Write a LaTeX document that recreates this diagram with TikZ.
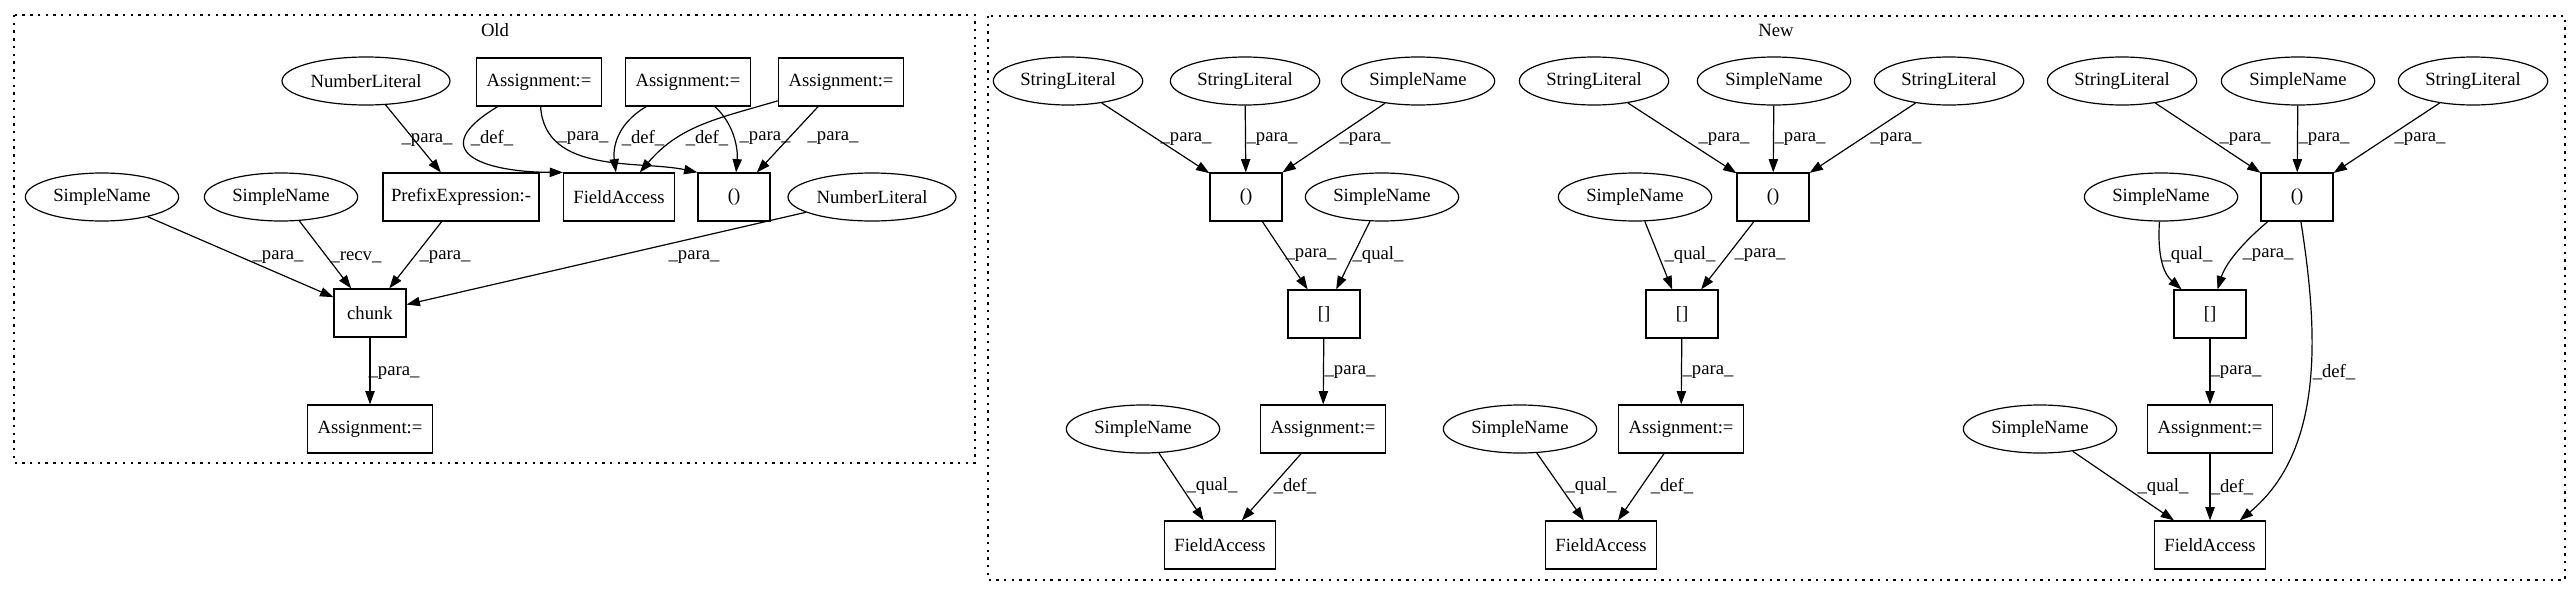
\documentclass[tikz,border=0pt]{standalone}
\usepackage{fontspec}
\setmainfont{Liberation Serif}
\usetikzlibrary{shapes.geometric,arrows.meta}
\newcommand\gvfont{\fontsize{14}{16}\selectfont}
\tikzset{
  box/.style={draw,rectangle,minimum height=36pt,minimum width=54pt,inner sep=0pt,line width=0.9pt,font=\gvfont},
  oval/.style={draw,ellipse,minimum height=36pt,inner sep=0pt,line width=0.9pt,font=\gvfont},
  lbl/.style={inner sep=0pt,font=\gvfont},
  arr/.style={-{Triangle[length=10pt,width=7pt]},line width=0.9pt},
  frame/.style={line width=0.9pt,dash pattern=on 1.8pt off 4pt}
}

\begin{document}
\begin{tikzpicture}[x=0.75pt,y=-0.75pt]
    \useasboundingbox (0,0) rectangle (2576,596);
    \draw[frame] (14,15) rectangle (975,463);
    \draw[frame] (988,16) rectangle (2565,580);
    \node[lbl] (old) at (495,30) {Old};
    \node[lbl] (new) at (1776,30) {New};

    \node[oval,minimum width=126pt] (nl1) at (366,81) {NumberLiteral};
    \node[box,minimum width=94pt] (oa1) at (539,82) {Assignment:=};
    \node[box,minimum width=94pt] (oa2) at (688,82) {Assignment:=};
    \node[box,minimum width=94pt] (oa3) at (841,82) {Assignment:=};
    \node[oval,minimum width=115pt] (sn1) at (102,197) {SimpleName};
    \node[oval,minimum width=115pt] (sn2) at (281,197) {SimpleName};
    \node[box,minimum width=117pt] (pre) at (461,197) {PrefixExpression:-};
    \node[box,minimum width=83pt] (ofa) at (619,197) {FieldAccess};
    \node[box] (opar) at (734,197) {()};
    \node[oval,minimum width=126pt] (nl2) at (872,197) {NumberLiteral};
    \node[box] (chunk) at (370,313) {chunk};
    \node[box,minimum width=94pt] (oa4) at (370,429) {Assignment:=};

    \draw[arr] (nl1) -- (pre) node[lbl] at (427,140) {\_para\_};
    \draw[arr] (oa1) .. controls (425,150) and (480,172) .. (ofa.north west) node[lbl] at (492,138) {\_def\_};
    \draw[arr] (oa1) .. controls (545,175) and (640,160) .. (opar.north west) node[lbl] at (583,138) {\_para\_};
    \draw[arr] (oa2) .. controls (615,125) and (613,150) .. (ofa) node[lbl] at (643,138) {\_def\_};
    \draw[arr] (oa2) .. controls (735,125) and (738,150) .. (opar) node[lbl] at (765,138) {\_para\_};
    \draw[arr] (oa3) .. controls (720,118) and (680,125) .. (ofa) node[lbl] at (707,138) {\_def\_};
    \draw[arr] (oa3) -- (opar) node[lbl] at (833,138) {\_para\_};
    \draw[arr] (sn1) -- (chunk) node[lbl] at (278,257) {\_para\_};
    \draw[arr] (sn2) -- (chunk) node[lbl] at (356,257) {\_recv\_};
    \draw[arr] (pre) -- (chunk) node[lbl] at (445,257) {\_para\_};
    \draw[arr] (nl2) -- (chunk) node[lbl] at (694,257) {\_para\_};
    \draw[arr] (chunk) -- (oa4) node[lbl] at (394,373) {\_para\_};

    \node[oval,minimum width=112pt] (sa1) at (1068,81) {StringLiteral};
    \node[oval,minimum width=112pt] (sa2) at (1245,81) {StringLiteral};
    \node[oval,minimum width=115pt] (na1) at (1418,81) {SimpleName};
    \node[oval,minimum width=112pt] (sb1) at (1594,81) {StringLiteral};
    \node[oval,minimum width=115pt] (nb1) at (1774,81) {SimpleName};
    \node[oval,minimum width=112pt] (sb3) at (1949,81) {StringLiteral};
    \node[oval,minimum width=112pt] (sc1) at (2122,81) {StringLiteral};
    \node[oval,minimum width=115pt] (nc1) at (2298,81) {SimpleName};
    \node[oval,minimum width=112pt] (sc2) at (2473,81) {StringLiteral};

    \node[box] (pa) at (1246,197) {()};
    \node[oval,minimum width=115pt] (na2) at (1382,197) {SimpleName};
    \node[oval,minimum width=115pt] (nb2) at (1635,197) {SimpleName};
    \node[box] (pb) at (1773,197) {()};
    \node[oval,minimum width=115pt] (nc2) at (2161,197) {SimpleName};
    \node[box] (pc) at (2297,197) {()};

    \node[box] (ba) at (1324,314) {[]};
    \node[box] (bb) at (1682,314) {[]};
    \node[box] (bc) at (2210,314) {[]};

    \node[oval,minimum width=115pt] (na3) at (1143,429) {SimpleName};
    \node[box,minimum width=94pt] (aa) at (1323,429) {Assignment:=};
    \node[oval,minimum width=115pt] (nb3) at (1520,429) {SimpleName};
    \node[box,minimum width=94pt] (ab) at (1681,429) {Assignment:=};
    \node[oval,minimum width=115pt] (nc3) at (2040,429) {SimpleName};
    \node[box,minimum width=94pt] (ac) at (2210,429) {Assignment:=};

    \node[box,minimum width=83pt] (fa) at (1220,545) {FieldAccess};
    \node[box,minimum width=83pt] (fb) at (1601,545) {FieldAccess};
    \node[box,minimum width=83pt] (fc) at (2210,545) {FieldAccess};

    \draw[arr] (sa1) -- (pa) node[lbl] at (1186,139) {\_para\_};
    \draw[arr] (sa2) -- (pa) node[lbl] at (1272,139) {\_para\_};
    \draw[arr] (na1) -- (pa) node[lbl] at (1365,139) {\_para\_};
    \draw[arr] (pa) -- (ba) node[lbl] at (1311,255) {\_para\_};
    \draw[arr] (na2) -- (ba) node[lbl] at (1378,255) {\_qual\_};
    \draw[arr] (ba) -- (aa) node[lbl] at (1350,372) {\_para\_};
    \draw[arr] (na3) -- (fa) node[lbl] at (1212,486) {\_qual\_};
    \draw[arr] (aa) -- (fa) node[lbl] at (1295,486) {\_def\_};

    \draw[arr] (sb1) -- (pb) node[lbl] at (1724,139) {\_para\_};
    \draw[arr] (nb1) -- (pb) node[lbl] at (1800,139) {\_para\_};
    \draw[arr] (sb3) -- (pb) node[lbl] at (1896,139) {\_para\_};
    \draw[arr] (nb2) -- (bb) node[lbl] at (1690,255) {\_qual\_};
    \draw[arr] (pb) -- (bb) node[lbl] at (1760,255) {\_para\_};
    \draw[arr] (bb) -- (ab) node[lbl] at (1708,372) {\_para\_};
    \draw[arr] (nb3) -- (fb) node[lbl] at (1591,486) {\_qual\_};
    \draw[arr] (ab) -- (fb) node[lbl] at (1672,486) {\_def\_};

    \draw[arr] (sc1) -- (pc) node[lbl] at (2245,139) {\_para\_};
    \draw[arr] (nc1) -- (pc) node[lbl] at (2324,139) {\_para\_};
    \draw[arr] (sc2) -- (pc) node[lbl] at (2420,139) {\_para\_};
    \draw[arr] (nc2) .. controls (2157,260) and (2165,275) .. (bc) node[lbl] at (2187,255) {\_qual\_};
    \draw[arr] (pc) .. controls (2240,245) and (2225,265) .. (bc) node[lbl] at (2268,255) {\_para\_};
    \draw[arr] (pc) .. controls (2318,330) and (2325,450) .. (fc) node[lbl] at (2334,372) {\_def\_};
    \draw[arr] (bc) -- (ac) node[lbl] at (2236,372) {\_para\_};
    \draw[arr] (nc3) -- (fc) node[lbl] at (2163,487) {\_qual\_};
    \draw[arr] (ac) -- (fc) node[lbl] at (2232,487) {\_def\_};
\end{tikzpicture}
\end{document}
